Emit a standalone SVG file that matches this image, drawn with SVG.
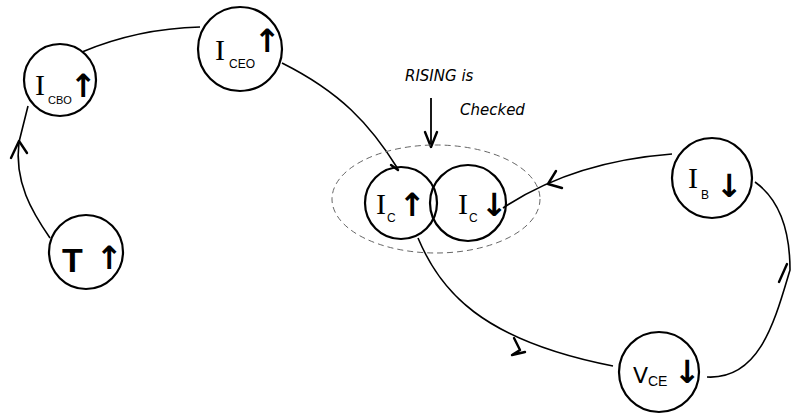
<svg xmlns="http://www.w3.org/2000/svg" width="792" height="416" viewBox="0 0 792 416">
<style>
.node{fill:none;stroke:#000;stroke-width:2.2}
.edge{fill:none;stroke:#000;stroke-width:1.6}
.head{fill:none;stroke:#000;stroke-width:2.4;stroke-linecap:round;stroke-linejoin:round}
.lbl{font-family:"Liberation Serif",serif;font-size:30px;fill:#000}
.sub{font-family:"Liberation Sans",sans-serif;font-size:12px;fill:#000}
.arr{font-family:"DejaVu Sans",sans-serif;font-size:32px;font-weight:bold;fill:#000}
.note{font-family:"DejaVu Sans",sans-serif;font-size:15px;fill:#000;font-style:italic}
</style>
<rect width="792" height="416" fill="#fff"/>
<g id="connectors">
<path class="edge" d="M50,238 C32,212 14,182 19,142 L28,106"/>
<path class="head" d="M11,158 L19,141 L27,153"/>
<path class="edge" d="M82,52 C120,36 160,28 200,27"/>
<path class="edge" d="M282,63 C340,92 370,124 398,169"/>
<path class="head" d="M391,165 L398,170"/>
<path class="edge" d="M672,154 C620,158 560,170 503,208"/>
<path class="head" d="M556,171 L548,184 L562,188"/>
<path class="edge" d="M418,238 C440,290 480,340 613,366"/>
<path class="head" d="M514,338 L520,350 L512,355 L525,352"/>
<path class="edge" d="M707,377 C760,380 775,320 790,270 C790,230 780,200 755,182"/>
<path class="head" d="M779,282 L787,264"/>
<path d="M431,98 L431,146" stroke="#000" stroke-width="1.8" fill="none"/>
<path class="head" d="M425,132 L431,147 L437,132"/>
</g>
<ellipse id="checked-region" cx="436" cy="199" rx="104" ry="54" fill="none" stroke="#666" stroke-width="1" stroke-dasharray="6,4"/>
<g id="node-T">
<circle class="node" cx="86" cy="252" r="37"/>
<text x="62" y="272" style="font-family:'Liberation Sans',sans-serif;font-weight:bold;font-size:34px">T</text>
<text class="arr" x="96" y="269">↑</text>
</g>
<g id="node-ICBO">
<circle class="node" cx="60" cy="80" r="36"/>
<text class="lbl" x="35" y="95">I</text>
<text class="sub" x="48" y="104" style="font-size:11px">CBO</text>
<text class="arr" x="70" y="97">↑</text>
</g>
<g id="node-ICEO">
<circle class="node" cx="240" cy="49" r="42"/>
<text class="lbl" x="215" y="60">I</text>
<text class="sub" x="229" y="68">CEO</text>
<text class="arr" x="254" y="52">↑</text>
</g>
<g id="node-IC-up">
<circle class="node" cx="401" cy="203" r="36"/>
<text class="lbl" x="376" y="214">I</text>
<text class="sub" x="387" y="222">C</text>
<text class="arr" x="399" y="216">↑</text>
</g>
<g id="node-IC-down">
<circle class="node" cx="468" cy="203" r="38"/>
<text class="lbl" x="458" y="214">I</text>
<text class="sub" x="469" y="222">C</text>
<text class="arr" x="481" y="216">↓</text>
</g>
<g id="node-IB">
<circle class="node" cx="712" cy="178" r="40"/>
<text class="lbl" x="688" y="188">I</text>
<text class="sub" x="701" y="199">B</text>
<text class="arr" x="716" y="197">↓</text>
</g>
<g id="node-VCE">
<circle class="node" cx="659" cy="372" r="40"/>
<text x="633" y="383" style="font-family:'DejaVu Sans',sans-serif;font-size:22px">V</text>
<text class="sub" x="648" y="386" style="font-size:14px">CE</text>
<text class="arr" x="674" y="383">↓</text>
</g>
<g id="note">
<text class="note" x="405" y="81">RISING is</text>
<text class="note" x="460" y="115">Checked</text>
</g>
</svg>
